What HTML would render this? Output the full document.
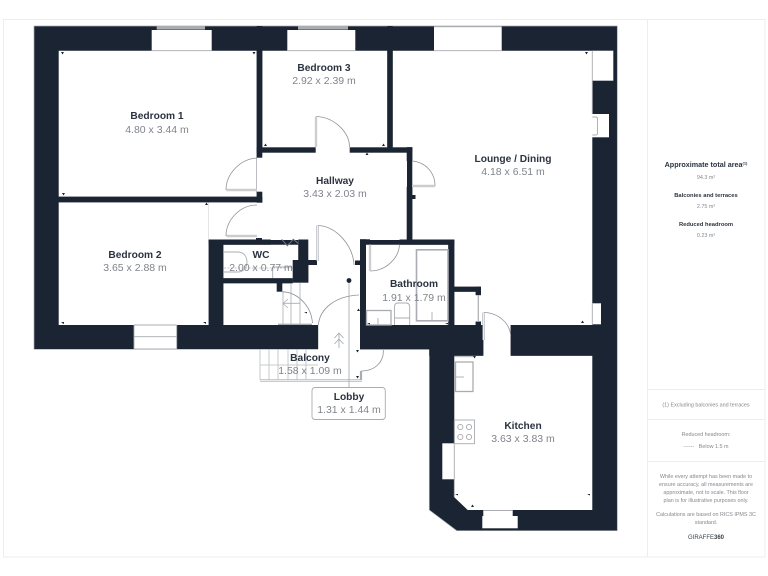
<!DOCTYPE html>
<html><head><meta charset="utf-8"><style>
html,body{margin:0;padding:0;background:#fff}
svg{display:block;filter:blur(.35px)}
text{font-family:"Liberation Sans",sans-serif;text-anchor:middle}
.n{font-size:10.2px;font-weight:bold;fill:#2b3340}
.d{font-size:10.5px;fill:#80848b}
.s{font-size:5.4px;fill:#85888d}
.h{font-weight:bold;fill:#2b3340}
.l{fill:none;stroke:#a9acb0;stroke-width:.9}
.dbl{fill:none;stroke:#a9acb0;stroke-width:2.2}
.dbi{fill:none;stroke:#fff;stroke-width:.8}
.a{fill:none;stroke:#8f9398;stroke-width:.8}
</style></head><body>
<svg width="768" height="576" viewBox="0 0 768 576" xmlns="http://www.w3.org/2000/svg">
<rect width="768" height="576" fill="#fff"/>
<rect x="3.5" y="19.5" width="761.5" height="537.5" fill="none" stroke="#eceded" stroke-width="1"/>
<path d="M647.5 20V557M647.5 389.5H765M647.5 419.5H765M647.5 461.5H765" stroke="#eceded" stroke-width="1" fill="none"/>

<g fill="#1b2432">
<path d="M34 26H617.3V530.7H456.7L429.3 510V349.3H34Z" stroke="#a9acb0" stroke-width=".7"/>
</g>
<!-- rooms -->
<g fill="#fff">
<path d="M58.7 50.7H256.7V196.7H58.7Z"/>
<path d="M58.7 202.3H208.7V325H58.7Z"/>
<path d="M262.3 50.7H387.3V147.3H262.3Z"/>
<path d="M392.7 50.7H592.3V325H481V286.7H454.3V240H412.3V147.3H392.7Z"/>
<path d="M257 147H407V240H366V325H360V349.3H318.3V325H223.3V283.3H292.7V260H298.3V240H208.7V202.3H257Z"/>
<path d="M366 244.7H448.3V325H366Z"/>
<path d="M454.3 291.7H475.7V325H454.3Z"/>
<path d="M223.3 244.7H298.3V278.3H223.3Z"/>
<path d="M454.3 355.7H592.3V510H467.7L454.3 497.3Z"/>
<path d="M483.3 325H510.7V356H483.3Z"/>
<path d="M318.3 325H360V350H318.3Z"/>
<!-- openings -->
<rect x="151.7" y="30" width="60" height="21"/>
<rect x="287.3" y="30" width="68" height="21"/>
<rect x="434" y="27" width="67.7" height="24"/>
<rect x="592" y="50.7" width="21.3" height="30"/>
<rect x="592" y="114" width="17" height="23.3"/>
<rect x="592" y="303.3" width="9" height="21"/>
<rect x="134" y="325" width="42.7" height="24.3"/>
<rect x="442.3" y="443.3" width="12.5" height="36"/>
<rect x="483.3" y="510" width="29.4" height="6.5"/>
<rect x="482.3" y="516" width="35.4" height="12.3"/>
<rect x="224" y="283.3" width="52" height="41.7"/>
<rect x="475" y="295" width="7" height="27"/>
</g>
<!-- inner walls -->
<g fill="#1b2432">
<rect x="256.7" y="26" width="5.6" height="131.7"/>
<rect x="387.3" y="26" width="5.4" height="126"/>
<rect x="256.7" y="147.3" width="59" height="5.4"/>
<rect x="349.7" y="147.3" width="62.6" height="5.4"/>
<rect x="406.7" y="147.3" width="5.6" height="13.7"/>
<rect x="406.7" y="186.7" width="5.6" height="55"/>
<rect x="412" y="195" width="3.5" height="4"/>
<rect x="58" y="196.7" width="204.3" height="5.6"/>
<rect x="256.7" y="191.7" width="5.6" height="11"/>
<rect x="208.7" y="239.5" width="14.6" height="86"/>
<rect x="208.7" y="239.5" width="62" height="5.2"/>
<rect x="256" y="238" width="6" height="3"/>
<rect x="298.3" y="239.5" width="10" height="43"/>
<rect x="292.7" y="260" width="15.6" height="22.7"/>
<rect x="308" y="260" width="9" height="5"/>
<rect x="223" y="278.3" width="69.7" height="5"/>
<rect x="276.7" y="283" width="5.6" height="8.7"/>
<rect x="355" y="260.5" width="6" height="4.5"/>
<rect x="360" y="239.3" width="6" height="86"/>
<rect x="360" y="239.3" width="10" height="5.2"/>
<rect x="399.5" y="239.5" width="54.8" height="5.2"/>
<rect x="448.3" y="239.5" width="6" height="86"/>
<rect x="454" y="286.7" width="27" height="5"/>
<rect x="475.7" y="286.7" width="5.3" height="8.5"/>
<rect x="475.7" y="321.5" width="5.3" height="4"/>
<rect x="360" y="325" width="70" height="24.3"/>
<rect x="429.3" y="325" width="54" height="30.7"/>
<rect x="510.7" y="325" width="82" height="30.7"/>
</g>
<!-- window lines -->
<g fill="#a9acb0">
<rect x="156.7" y="26" width="48.3" height="3.6"/>
<rect x="298" y="26" width="50" height="3.6"/>
<rect x="434" y="26" width="67.7" height="1.2"/>
</g>
<g class="l">
<path d="M151.7 50.7H211.7M287.3 50.7H355.3M434 50.7H501.7M592.3 50.7V114M592.3 303.3V325"/>
<path d="M134 325H176.7M134 336.7H176.7M134 349H176.7M134 325V349M176.7 325V349"/>
<path d="M454.3 420V497"/>
<path d="M483.3 510.5H512.7"/>
<path d="M592.3 117H596Q597.5 117 597.5 119V133Q597.5 135 596 135H592.3"/>
</g>
<path d="M478.3 295V322" stroke="#a9acb0" stroke-width="1.2" fill="none"/>
<!-- doors -->
<g class="a">
<path d="M316 116.5C334 117 349.5 132 349.5 147"/>
<path d="M257 158C240 159 226 174 226 190"/>
<path d="M226 236C226 220 240 205 257 205"/>
<path d="M412 161C425 162 435 172 435 186"/>
<path d="M317.5 225.5C336 226 353 245 354 265"/>
<path d="M370 271C386 271 399 258 399.5 244.5"/>
<path d="M318.3 325C320 308 336 296 359 295"/>
<path d="M483.5 312.5C498 312.5 510 323 510.7 336"/>
<path d="M383.3 350C384 362 375 371 361 371"/>
<path d="M281.7 291.7C297 292 311 305 312.5 323"/>
<path d="M281.7 239.3L287.3 245.7L293.3 239.3L298.3 243.3" stroke="#70757b" stroke-width="1"/>
</g>
<g class="dbl">
<path d="M316 116.5V147M226.5 190H257M226.5 236H257M412 186H435M317.5 225.5V261M370 244.5V271M483.5 312.5V340M361 371V381M260 380.5H362"/>
</g>
<g class="dbi">
<path d="M316 116.5V147M226.5 190H257M226.5 236H257M412 186H435M317.5 225.5V261M370 244.5V271M483.5 312.5V340M260 380.5H362"/>
</g>
<!-- lobby mark, stairs -->
<path d="M349 280V388" stroke="#a9acb0" stroke-width=".9"/>
<circle cx="349" cy="280.5" r="2.4" fill="#1b2432"/>
<path d="M339 348V333M334.5 338L339 333L343.5 338M334.5 344L339 339L343.5 344" stroke="#a9acb0" stroke-width=".9" fill="none"/>
<path d="M260 349.5V380M269 349.500V380M278 349.500V380M288 349.500V380M297 349.500V380M306 349.500V380M260 365H318" stroke="#b9bcbf" stroke-width=".8" fill="none"/>
<path d="M283 291V325M291 283V325M300 283V325M283 303.300H300M288 299L283 303.500L288 308" stroke="#a9acb0" stroke-width=".8" fill="none"/>
<path d="M278 324.300H312" stroke="#a9acb0" stroke-width="1.400"/>
<!-- fixtures -->
<g class="l">
<path d="M224 252H238C244 252 247 257 247 262C247 267 244 272 238 272H224"/>
<path d="M272.700 278V267H293"/>
<path d="M224 268H293" stroke="#c4c6c9" stroke-dasharray="2 1.500"/>
<rect x="416.500" y="249.800" width="31.500" height="71" stroke-width="1.600"/>
<rect x="366.500" y="310.500" width="24.500" height="14.500" stroke-width="1.300"/>
<path d="M378 318V325"/>
<path d="M394.500 325V307Q394.500 303 398 303H406Q409.700 303 409.700 307V325M394.500 318H409.700"/>
<path d="M432 312V321"/>
<rect x="455.500" y="362" width="17.500" height="29.500" stroke-width="1.300"/>
<path d="M455.500 377H464"/>
<path d="M454.500 356.700H473"/>
<rect x="454.500" y="420" width="20" height="23.700"/>
<circle cx="460.300" cy="427" r="2.600"/><circle cx="469" cy="427" r="2.600"/>
<circle cx="460.300" cy="437" r="2.600"/><circle cx="469" cy="437" r="2.600"/>
</g>
<!-- dimension ticks -->
<g fill="#1b2432">
<path d="M61 52l3 0l-1.500 2.500zM252.500 52h3l-1.500 2.500zM62 193h3l-1.500 2.500zM205 205h3l-1.500-2.500zM264 146h3l-1.500-2.500zM382 146h3l-1.500-2.500zM365.500 155h3l-1.500-2.500z"/>
<path d="M61 322h3v2zM203 322h3v2zM224 241h3v2zM62 323h2v1zM260 241h3v2zM367 241h3l-1.500 2zM450 246h3l-1.500 2.500zM367 323h3v1.500zM445 323h3v1.500z"/>
<path d="M585 52h3l-1.500 2.500zM581 323h3l-1.500-2.500zM473 356h3l-1.500 2.500zM455 494h3v1.500zM587 494h3v1.500zM471 507h3l-1.500-2.500zM356 350h3l-1.500 2.500zM356 376h3l-1.500 2.500zM357 311h3l-1.500-2.500zM304 312h3v1.500z"/>
</g>
<!-- lobby label box -->
<rect x="312" y="387.500" width="73.300" height="32" rx="3" fill="#fff" stroke="#a9acb0" stroke-width=".9"/>
<!-- room labels -->
<text class="n" x="157" y="119">Bedroom 1</text><text class="d" x="157" y="133">4.80 x 3.44 m</text>
<text class="n" x="324" y="71">Bedroom 3</text><text class="d" x="324" y="84">2.92 x 2.39 m</text>
<text class="n" x="335" y="184">Hallway</text><text class="d" x="335" y="197">3.43 x 2.03 m</text>
<text class="n" x="513" y="162">Lounge / Dining</text><text class="d" x="513" y="175">4.18 x 6.51 m</text>
<text class="n" x="135" y="258">Bedroom 2</text><text class="d" x="135" y="271">3.65 x 2.88 m</text>
<text class="n" x="261" y="258">WC</text><text class="d" x="261" y="271">2.00 x 0.77 m</text>
<text class="n" x="414" y="287">Bathroom</text><text class="d" x="414" y="301">1.91 x 1.79 m</text>
<text class="n" x="310" y="361">Balcony</text><text class="d" x="310" y="374">1.58 x 1.09 m</text>
<text class="n" x="349" y="400">Lobby</text><text class="d" x="349" y="413">1.31 x 1.44 m</text>
<text class="n" x="523" y="429">Kitchen</text><text class="d" x="523" y="442">3.63 x 3.83 m</text>
<!-- sidebar -->
<text class="h" x="706" y="167" font-size="7.200">Approximate total area<tspan font-size="4" dy="-2.500">(1)</tspan></text>
<text class="s" x="706" y="179">94.3 m²</text>
<text class="h" x="706" y="197" font-size="5.800">Balconies and terraces</text>
<text class="s" x="706" y="208">2.75 m²</text>
<text class="h" x="706" y="226" font-size="5.800">Reduced headroom</text>
<text class="s" x="706" y="237">0.23 m²</text>
<text class="s" x="706" y="406.500">(1) Excluding balconies and terraces</text>
<text class="s" x="706" y="436">Reduced headroom:</text>
<text class="s" x="706" y="448">------ &#160; Below 1.5 m</text>
<text class="s" x="706" y="478">While every attempt has been made to</text>
<text class="s" x="706" y="486">ensure accuracy, all measurements are</text>
<text class="s" x="706" y="494">approximate, not to scale. This floor</text>
<text class="s" x="706" y="502">plan is for illustrative purposes only.</text>
<text class="s" x="706" y="516">Calculations are based on RICS IPMS 3C</text>
<text class="s" x="706" y="524">standard.</text>
<text x="706" y="539" font-size="6" fill="#3a4149">GIRAFFE<tspan font-weight="bold">360</tspan></text>
</svg>
</body></html>
